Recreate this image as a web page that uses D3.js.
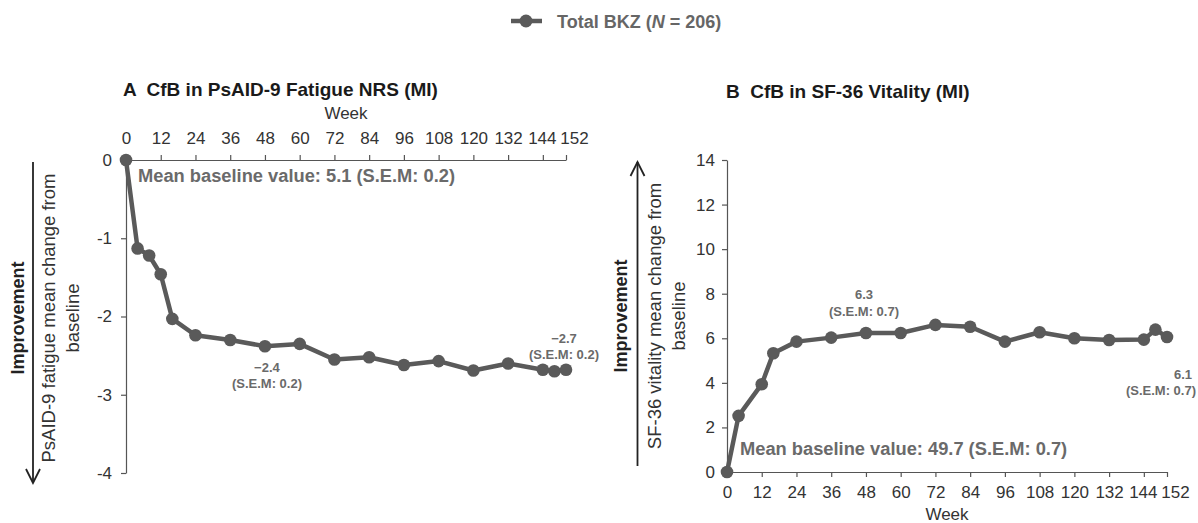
<!DOCTYPE html>
<html>
<head>
<meta charset="UTF-8">
<title>CfB fatigue and vitality</title>
<script src="https://cdn.jsdelivr.net/npm/d3@7"></script>
<style>
  body { margin: 0; background: #fff; }
  svg { font-family: "Liberation Sans", Arial, sans-serif; }
  .axis path, .axis line { fill: none; stroke: #555; stroke-width: 1.2; }
  .axis text { font-size: 17px; fill: #333; }
  .ann { font-weight: bold; fill: #6a6a6a; }
</style>
</head>
<body>
<script>
// data
var weeksA = [0, 4, 8, 12, 16, 24, 36, 48, 60, 72, 84, 96, 108, 120, 132, 144, 148, 152];
var fatigueA = [0, -1.13, -1.22, -1.46, -2.03, -2.24, -2.30, -2.38, -2.35, -2.55, -2.52, -2.62, -2.57, -2.69, -2.60, -2.68, -2.70, -2.68];
var weeksB = [0, 4, 12, 16, 24, 36, 48, 60, 72, 84, 96, 108, 120, 132, 144, 148, 152];
var vitalityB = [0, 2.52, 3.94, 5.33, 5.85, 6.03, 6.24, 6.24, 6.60, 6.52, 5.85, 6.27, 6.00, 5.92, 5.94, 6.39, 6.06];
var weekTicks = [0, 12, 24, 36, 48, 60, 72, 84, 96, 108, 120, 132, 144, 152];
var yTicksA = [0, -1, -2, -3, -4];
var yTicksB = [0, 2, 4, 6, 8, 10, 12, 14];
var labelsA = [{week: 48, value: "\u22122.4", sem: "(S.E.M: 0.2)"}, {week: 152, value: "\u22122.7", sem: "(S.E.M: 0.2)"}];
var labelsB = [{week: 48, value: "6.3", sem: "(S.E.M: 0.7)"}, {week: 152, value: "6.1", sem: "(S.E.M: 0.7)"}];

var lineColor = "#5a5a5a";

var svg = d3.select("body").append("svg")
  .attr("width", 1198)
  .attr("height", 523);

// legend
var leg = svg.append("g");
leg.append("line").attr("x1", 511).attr("x2", 542).attr("y1", 21).attr("y2", 21)
  .attr("stroke", lineColor).attr("stroke-width", 4.5);
leg.append("circle").attr("cx", 526).attr("cy", 21).attr("r", 6.5).attr("fill", lineColor);
var lt = leg.append("text").attr("x", 557).attr("y", 27.5)
  .attr("font-size", 18).attr("font-weight", "bold").attr("fill", "#666");
lt.append("tspan").text("Total BKZ (");
lt.append("tspan").attr("font-style", "italic").text("N");
lt.append("tspan").text(" = 206)");

function drawSeries(g, x, y, weeks, values) {
  var pts = weeks.map(function(w, i) { return [w, values[i]]; });
  var line = d3.line().x(function(d) { return x(d[0]); }).y(function(d) { return y(d[1]); });
  g.append("path").datum(pts)
    .attr("d", line)
    .attr("fill", "none")
    .attr("stroke", lineColor)
    .attr("stroke-width", 4.5)
    .attr("stroke-linejoin", "round");
  g.selectAll("circle.pt").data(pts).enter().append("circle")
    .attr("class", "pt")
    .attr("cx", function(d) { return x(d[0]); })
    .attr("cy", function(d) { return y(d[1]); })
    .attr("r", 6.3)
    .attr("fill", lineColor);
}

// the last tick (152) sits right after 144, so its label is pushed right
function nudgeLast(axisG, horiz) {
  axisG.selectAll(".tick text").attr("dx", function(d) { return d === 152 ? 8 : (d === 144 ? -1 : 0); });
}

function yTitle(g, xi, xa, xb, cy, lines, arrowY1, arrowY2) {
  g.append("text")
    .attr("transform", "translate(" + xi + "," + cy + ") rotate(-90)")
    .attr("text-anchor", "middle").attr("dominant-baseline", "central")
    .attr("font-size", 18).attr("font-weight", "bold").attr("fill", "#222")
    .text("Improvement");
  g.append("text")
    .attr("transform", "translate(" + xa + "," + cy + ") rotate(-90)")
    .attr("text-anchor", "middle").attr("dominant-baseline", "central")
    .attr("font-size", 18.5).attr("fill", "#333")
    .text(lines[0]);
  g.append("text")
    .attr("transform", "translate(" + xb + "," + cy + ") rotate(-90)")
    .attr("text-anchor", "middle").attr("dominant-baseline", "central")
    .attr("font-size", 18.5).attr("fill", "#333")
    .text(lines[1]);
  // arrow
  var ax = (xi + xa) / 2;
  g.append("line").attr("x1", ax).attr("x2", ax).attr("y1", arrowY1).attr("y2", arrowY2)
    .attr("stroke", "#222").attr("stroke-width", 1.8);
  var dir = arrowY2 > arrowY1 ? -1 : 1;
  g.append("path")
    .attr("d", "M" + (ax - 7) + "," + (arrowY2 + dir * 14) + " L" + ax + "," + arrowY2 + " L" + (ax + 7) + "," + (arrowY2 + dir * 14))
    .attr("fill", "none").attr("stroke", "#222").attr("stroke-width", 1.8);
}

// ---------- panel A ----------
var xA = d3.scaleLinear().domain([0, 152]).range([126, 566]);
var yA = d3.scaleLinear().domain([0, -4]).range([160, 473]);
var gA = svg.append("g");

gA.append("text").attr("x", 123).attr("y", 96)
  .attr("font-size", 19).attr("font-weight", "bold").attr("fill", "#1a1a1a")
  .attr("xml:space", "preserve")
  .text("A  CfB in PsAID-9 Fatigue NRS (MI)");
gA.append("text").attr("x", (xA(0) + xA(152)) / 2).attr("y", 119)
  .attr("text-anchor", "middle").attr("font-size", 17).attr("fill", "#333").text("Week");

var axA = gA.append("g").attr("class", "axis")
  .attr("transform", "translate(0," + yA(0) + ")")
  .call(d3.axisTop(xA).tickValues(weekTicks).tickSize(5).tickSizeOuter(0).tickPadding(11));
nudgeLast(axA);
gA.append("g").attr("class", "axis")
  .attr("transform", "translate(" + xA(0) + ",0)")
  .call(d3.axisLeft(yA).tickValues(yTicksA).tickSize(5).tickSizeOuter(0).tickPadding(9)
    .tickFormat(function(d) { return d === 0 ? "0" : "-" + Math.abs(d); }));

yTitle(gA, 18, 48, 72, 318, ["PsAID-9 fatigue mean change from", "baseline"], 162, 483);

gA.append("text").attr("class", "ann").attr("x", 138).attr("y", 182)
  .attr("font-size", 18.3).text("Mean baseline value: 5.1 (S.E.M: 0.2)");

drawSeries(gA, xA, yA, weeksA, fatigueA);

labelsA.forEach(function(l, i) {
  var v = fatigueA[weeksA.indexOf(l.week)];
  var cx = xA(l.week) + (i === 0 ? 2 : -2);
  var base = i === 0 ? yA(v) + 26 : yA(v) - 27;
  gA.append("text").attr("class", "ann").attr("x", cx).attr("y", base)
    .attr("text-anchor", "middle").attr("font-size", 13).text(l.value);
  gA.append("text").attr("class", "ann").attr("x", cx).attr("y", base + 16)
    .attr("text-anchor", "middle").attr("font-size", 13).text(l.sem);
});

// ---------- panel B ----------
var xB = d3.scaleLinear().domain([0, 152]).range([727, 1167]);
var yB = d3.scaleLinear().domain([0, 14]).range([472, 160]);
var gB = svg.append("g");

gB.append("text").attr("x", 726).attr("y", 98)
  .attr("font-size", 19).attr("font-weight", "bold").attr("fill", "#1a1a1a")
  .attr("xml:space", "preserve")
  .text("B  CfB in SF-36 Vitality (MI)");

var axB = gB.append("g").attr("class", "axis")
  .attr("transform", "translate(0," + yB(0) + ")")
  .call(d3.axisBottom(xB).tickValues(weekTicks).tickSize(5).tickSizeOuter(0).tickPadding(9));
nudgeLast(axB);
gB.append("g").attr("class", "axis")
  .attr("transform", "translate(" + xB(0) + ",0)")
  .call(d3.axisLeft(yB).tickValues(yTicksB).tickSize(5).tickSizeOuter(0).tickPadding(7));
gB.append("text").attr("x", (xB(0) + xB(152)) / 2).attr("y", 520)
  .attr("text-anchor", "middle").attr("font-size", 17).attr("fill", "#333").text("Week");

yTitle(gB, 621, 654, 678, 316, ["SF-36 vitality mean change from", "baseline"], 466, 162);

gB.append("text").attr("class", "ann").attr("x", 740).attr("y", 455)
  .attr("font-size", 18.3).text("Mean baseline value: 49.7 (S.E.M: 0.7)");

drawSeries(gB, xB, yB, weeksB, vitalityB);

labelsB.forEach(function(l, i) {
  var v = vitalityB[weeksB.indexOf(l.week)];
  if (i === 0) {
    var cx = xB(l.week) - 2;
    var base = yB(v) - 34;
    gB.append("text").attr("class", "ann").attr("x", cx).attr("y", base)
      .attr("text-anchor", "middle").attr("font-size", 13).text(l.value);
    gB.append("text").attr("class", "ann").attr("x", cx).attr("y", base + 17)
      .attr("text-anchor", "middle").attr("font-size", 13).text(l.sem);
  } else {
    var rx = 1196;
    var b2 = yB(v) + 42;
    gB.append("text").attr("class", "ann").attr("x", rx - 4).attr("y", b2)
      .attr("text-anchor", "end").attr("font-size", 13).text(l.value);
    gB.append("text").attr("class", "ann").attr("x", rx).attr("y", b2 + 16)
      .attr("text-anchor", "end").attr("font-size", 13).text(l.sem);
  }
});
</script>
</body>
</html>
